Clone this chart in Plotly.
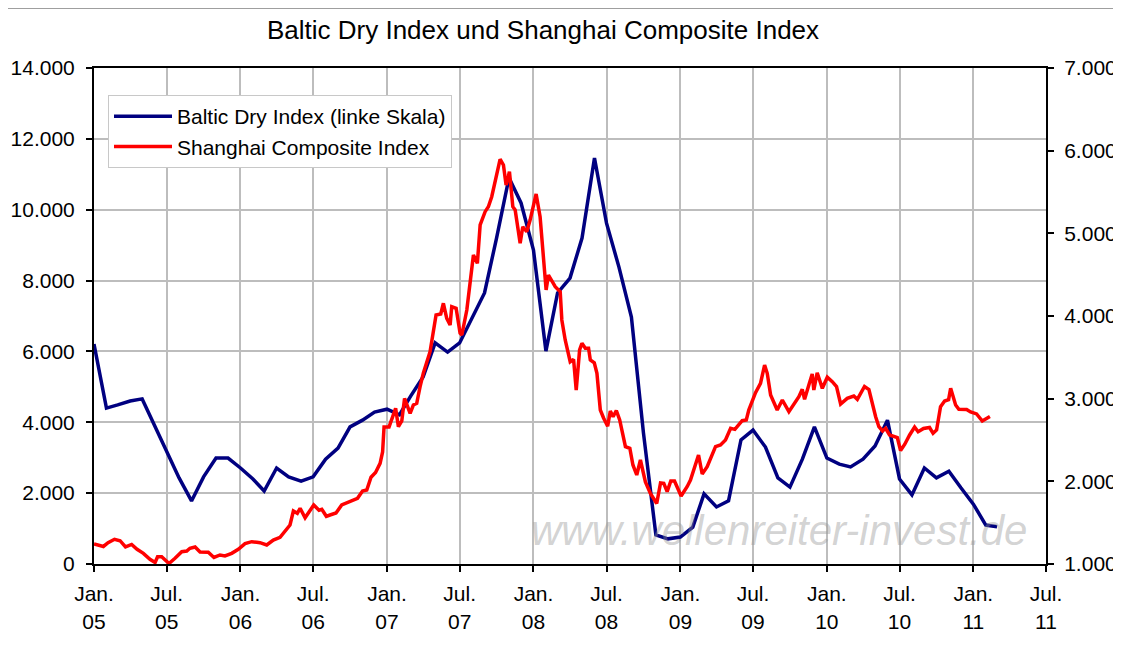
import pandas as pd
import plotly.graph_objects as go

# Baltic Dry Index, Monatswerte (linke Skala), ab Jan. 2005
bdi_start = "2005-01-01"
bdi_values = [
    6210, 4400, 4490, 4600, 4660, 3920, 3160, 2430, 1780, 2460, 2990, 2990,
    2710, 2400, 2060, 2710, 2460, 2340, 2460, 2960, 3270, 3870, 4060, 4290,
    4370, 4210, 4740, 5280, 6240, 5980, 6240, 6970, 7650, 9200, 10900, 10190,
    8860, 6010, 7650, 8070, 9200, 11460, 9620, 8380, 6970, 3700, 820, 710,
    760, 1040, 1980, 1610, 1780, 3500, 3780, 3300, 2430, 2170, 2960, 3870,
    2990, 2820, 2740, 2960, 3330, 4060, 2400, 1950, 2710, 2430, 2620, 2150,
    1690, 1100, 1050,
]

# Shanghai Composite Index (rechte Skala), Zeitpunkte als Dezimaljahre
sse_time = [
    2005.000, 2005.064, 2005.096, 2005.140, 2005.178, 2005.215, 2005.257, 2005.294,
    2005.337, 2005.382, 2005.417, 2005.434, 2005.462, 2005.512, 2005.553, 2005.599,
    2005.633, 2005.655, 2005.690, 2005.724, 2005.780, 2005.819, 2005.860, 2005.894,
    2005.940, 2005.985, 2006.031, 2006.077, 2006.111, 2006.133, 2006.179, 2006.224,
    2006.270, 2006.338, 2006.361, 2006.388, 2006.407, 2006.441, 2006.500, 2006.536,
    2006.555, 2006.586, 2006.611, 2006.652, 2006.691, 2006.748, 2006.799, 2006.833,
    2006.862, 2006.891, 2006.922, 2006.953, 2006.970, 2006.980, 2007.014, 2007.039,
    2007.059, 2007.078, 2007.101, 2007.120, 2007.158, 2007.180, 2007.203, 2007.226,
    2007.248, 2007.294, 2007.335, 2007.367, 2007.385, 2007.408, 2007.431, 2007.442,
    2007.472, 2007.499, 2007.511, 2007.545, 2007.590, 2007.617, 2007.636, 2007.670,
    2007.692, 2007.715, 2007.738, 2007.772, 2007.795, 2007.813, 2007.836, 2007.859,
    2007.875, 2007.909, 2007.927, 2007.954, 2007.977, 2008.018, 2008.045, 2008.068,
    2008.086, 2008.102, 2008.125, 2008.148, 2008.182, 2008.193, 2008.216, 2008.238,
    2008.250, 2008.273, 2008.291, 2008.314, 2008.330, 2008.353, 2008.375, 2008.387,
    2008.414, 2008.432, 2008.455, 2008.477, 2008.505, 2008.523, 2008.542, 2008.564,
    2008.587, 2008.626, 2008.656, 2008.677, 2008.703, 2008.728, 2008.745, 2008.762,
    2008.796, 2008.819, 2008.839, 2008.865, 2008.887, 2008.910, 2008.935, 2008.960,
    2008.979, 2009.005, 2009.047, 2009.069, 2009.124, 2009.149, 2009.183, 2009.240,
    2009.274, 2009.308, 2009.343, 2009.372, 2009.422, 2009.450, 2009.467, 2009.513,
    2009.547, 2009.575, 2009.593, 2009.616, 2009.661, 2009.696, 2009.741, 2009.775,
    2009.809, 2009.832, 2009.848, 2009.877, 2009.900, 2009.911, 2009.934, 2009.969,
    2010.003, 2010.037, 2010.066, 2010.094, 2010.139, 2010.184, 2010.208, 2010.257,
    2010.287, 2010.333, 2010.355, 2010.380, 2010.401, 2010.428, 2010.481, 2010.503,
    2010.531, 2010.565, 2010.599, 2010.623, 2010.660, 2010.701, 2010.725, 2010.749,
    2010.776, 2010.804, 2010.831, 2010.845, 2010.879, 2010.901, 2010.954, 2010.981,
    2011.022, 2011.061, 2011.097, 2011.113,
]
sse_values = [
    1242, 1212, 1258, 1299, 1282, 1206, 1236, 1178,
    1129, 1057, 1018, 1088, 1088, 1006, 1069, 1149,
    1157, 1190, 1206, 1145, 1142, 1079, 1109, 1097,
    1129, 1178, 1246, 1270, 1263, 1258, 1230, 1290,
    1323, 1472, 1641, 1613, 1674, 1559, 1714, 1650,
    1662, 1577, 1593, 1617, 1714, 1754, 1795, 1883,
    1895, 2049, 2107, 2218, 2355, 2657, 2657, 2782,
    2884, 2661, 2730, 3004, 2823, 2923, 2944, 3145,
    3307, 3568, 4012, 4024, 4154, 3972, 3891, 4113,
    4093, 3791, 3770, 4073, 4738, 4638, 5101, 5262,
    5322, 5443, 5625, 5896, 5827, 5585, 5746, 5322,
    5282, 4880, 5080, 5020, 5161, 5476, 5201, 4638,
    4315, 4496, 4415, 4354, 4294, 3952, 3710, 3549,
    3447, 3476, 3105, 3589, 3670, 3609, 3609, 3468,
    3435, 3307, 2863, 2766, 2666, 2851, 2782, 2857,
    2742, 2419, 2400, 2198, 2077, 2258, 2113, 1992,
    1855, 1795, 1732, 1980, 1976, 1875, 2004, 2004,
    1916, 1823, 1938, 2016, 2319, 2089, 2177, 2419,
    2440, 2500, 2642, 2629, 2734, 2742, 2863, 3072,
    3186, 3407, 3307, 3044, 2863, 2984, 2842, 2936,
    3024, 3113, 2992, 3165, 3298, 3105, 3314, 3125,
    3259, 3205, 3145, 2936, 3004, 3032, 2992, 3147,
    3111, 2782, 2661, 2609, 2642, 2561, 2530, 2373,
    2446, 2561, 2657, 2600, 2639, 2651, 2581, 2621,
    2903, 2972, 2988, 3125, 2923, 2871, 2869, 2839,
    2815, 2730, 2766, 2784,
]

x_tick_dates = ["2005-01-01", "2005-07-01", "2006-01-01", "2006-07-01", "2007-01-01",
                "2007-07-01", "2008-01-01", "2008-07-01", "2009-01-01", "2009-07-01",
                "2010-01-01", "2010-07-01", "2011-01-01", "2011-07-01"]
x_tick_text = ["Jan.<br>05", "Jul.<br>05", "Jan.<br>06", "Jul.<br>06", "Jan.<br>07",
               "Jul.<br>07", "Jan.<br>08", "Jul.<br>08", "Jan.<br>09", "Jul.<br>09",
               "Jan.<br>10", "Jul.<br>10", "Jan.<br>11", "Jul.<br>11"]
left_ticks = [0, 2000, 4000, 6000, 8000, 10000, 12000, 14000]
left_text = ["0", "2.000", "4.000", "6.000", "8.000", "10.000", "12.000", "14.000"]
right_ticks = [1000, 2000, 3000, 4000, 5000, 6000, 7000]
right_text = ["1.000", "2.000", "3.000", "4.000", "5.000", "6.000", "7.000"]


def dec_to_date(t):
    y = int(t)
    start = pd.Timestamp(year=y, month=1, day=1)
    end = pd.Timestamp(year=y + 1, month=1, day=1)
    return start + (end - start) * (t - y)


bdi_dates = pd.date_range(bdi_start, periods=len(bdi_values), freq="MS")
sse_dates = [dec_to_date(t) for t in sse_time]

FONT = "Liberation Sans, Arial, sans-serif"
OFF = 8  # page body margin
W, H = 1121 - OFF, 646 - OFF
L, T = 94 - OFF, 68 - OFF
R, B = W - (1046 - OFF), H - (564 - OFF)
pw, ph = 1046 - 94, 564 - 68


def px(xp):
    return (xp - 94) / pw


def py(yp):
    return (564 - yp) / ph


fig = go.Figure()
fig.add_trace(go.Scatter(x=bdi_dates, y=bdi_values, mode="lines",
                         name="Baltic Dry Index (linke Skala)",
                         line=dict(color="#000080", width=3.5)))
fig.add_trace(go.Scatter(x=sse_dates, y=sse_values, mode="lines",
                         name="Shanghai Composite Index", yaxis="y2",
                         line=dict(color="#ff0000", width=3.5)))

# watermark
fig.add_annotation(text="www.wellenreiter-invest.de", xref="paper", yref="paper",
                   x=px(779), y=py(530), showarrow=False,
                   xanchor="center", yanchor="middle",
                   font=dict(family=FONT, size=42, style="italic",
                             color="rgba(150,150,150,0.42)"))

# chart-area border
fig.add_shape(type="rect", xref="paper", yref="paper", layer="below",
              x0=px(3), x1=px(1117), y0=py(660), y1=py(8),
              line=dict(color="#404040", width=1))

axis_common = dict(showline=True, linecolor="black", linewidth=2,
                   ticks="outside", ticklen=6, tickwidth=1.5, tickcolor="black",
                   tickfont=dict(family=FONT, size=21, color="black"))

fig.update_layout(
    width=W, height=H,
    margin=dict(l=L, r=R, t=T, b=B, autoexpand=False),
    paper_bgcolor="white", plot_bgcolor="white",
    font=dict(family=FONT, color="black"),
    title=dict(text="Baltic Dry Index und Shanghai Composite Index",
               x=(543 - OFF) / W, xanchor="center", y=1 - (30 - OFF) / H,
               yanchor="middle", font=dict(family=FONT, size=26, color="black")),
    xaxis=dict(type="date", range=["2005-01-01", "2011-07-01"],
               tickmode="array", tickvals=x_tick_dates, ticktext=x_tick_text,
               showgrid=True, gridcolor="#bdbdbd", gridwidth=1.5, mirror=True,
               ticklabelstandoff=4, **axis_common),
    yaxis=dict(range=[0, 14000], tickmode="array", tickvals=left_ticks,
               ticktext=left_text, showgrid=True, gridcolor="#bdbdbd",
               gridwidth=1.5, zeroline=False, ticklabelstandoff=7, **axis_common),
    yaxis2=dict(range=[1000, 7000], overlaying="y", side="right",
                tickmode="array", tickvals=right_ticks, ticktext=right_text,
                showgrid=False, zeroline=False, ticklabelstandoff=6, **axis_common),
    legend=dict(x=px(108), y=py(95), xanchor="left", yanchor="top",
                bgcolor="white", bordercolor="#c8c8c8", borderwidth=1,
                font=dict(family=FONT, size=21, color="black"), itemwidth=58),
    showlegend=True,
)

fig.write_html("out.html")
